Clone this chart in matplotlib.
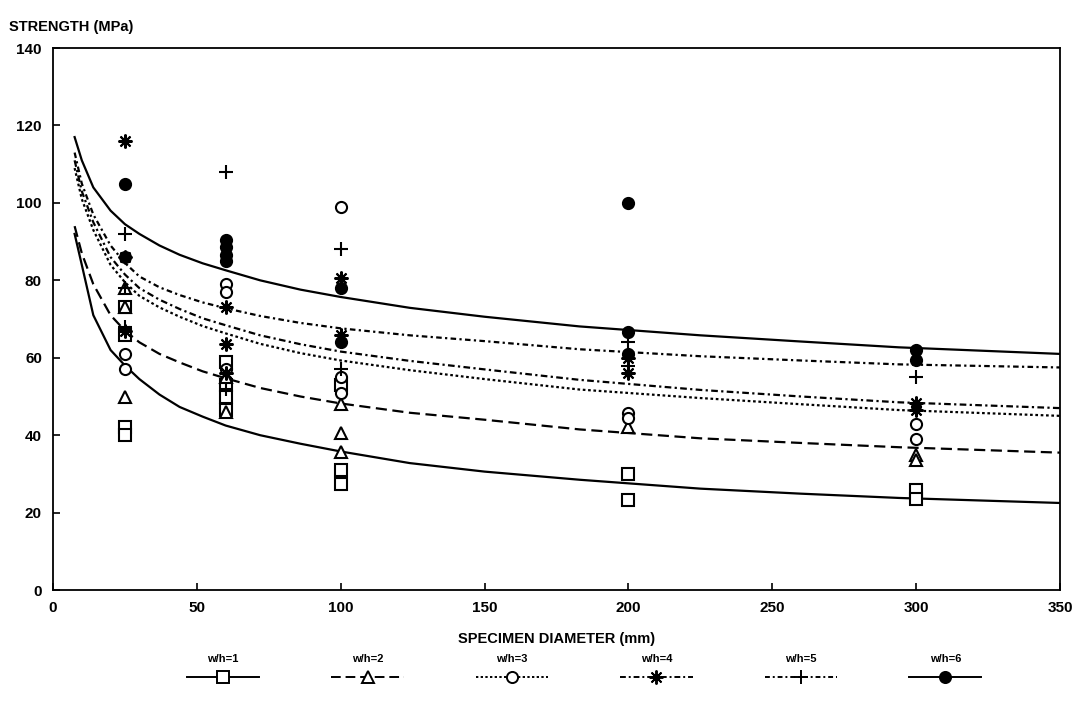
import matplotlib
matplotlib.use("Agg")
import matplotlib.pyplot as plt
from matplotlib.lines import Line2D

plt.rcParams['font.family'] = ['Liberation Sans', 'DejaVu Sans']

# ---------------- data ----------------
series_labels = ["w/h=1", "w/h=2", "w/h=3", "w/h=4", "w/h=5", "w/h=6"]

# measured points (diameter mm, strength MPa)
pts_wh1_d = [25, 25, 25, 25, 60, 60, 60, 60, 100, 100, 100, 200, 200, 300, 300]
pts_wh1_s = [73, 66, 42, 40, 59, 53, 50, 46.5, 53, 31, 27.5, 30, 23.2, 25.8, 23.5]

pts_wh2_d = [25, 25, 25, 60, 60, 100, 100, 100, 200, 300, 300]
pts_wh2_s = [78, 73, 50, 55, 46, 48, 40.5, 35.6, 42, 35, 33.5]

pts_wh3_d = [25, 25, 60, 60, 60, 100, 100, 100, 200, 200, 300, 300]
pts_wh3_s = [61, 57, 79, 77, 57, 99, 55, 51, 45.7, 44.5, 43, 39]

pts_wh4_d = [25, 25, 25, 60, 60, 60, 100, 100, 200, 200, 300, 300]
pts_wh4_s = [116, 86, 67, 73, 63.5, 56, 80.5, 66, 60, 56, 48.3, 46.5]

pts_wh5_d = [25, 25, 25, 60, 60, 100, 100, 200, 200, 300]
pts_wh5_s = [92, 78, 68, 108, 52, 88, 57, 64, 58, 55]

pts_wh6_d = [25, 25, 60, 60, 60, 60, 100, 100, 200, 200, 200, 300, 300]
pts_wh6_s = [105, 86, 90.5, 88.5, 86.5, 85, 78, 64, 100, 66.6, 61, 62, 59.5]

# fitted curves (diameter mm, strength MPa)
curve_d = [7.5, 10, 14, 20, 25, 30, 37, 44, 52, 60, 72, 86, 100, 124, 150, 183, 225, 260, 294, 350]
curve_wh1 = [92, 84, 71, 62, 58, 54.5, 50.5, 47.3, 44.8, 42.5, 40.0, 37.8, 35.8, 32.8, 30.6, 28.5, 26.2, 24.9, 23.8, 22.5]
curve_wh2 = [94, 87, 79, 71, 67, 64, 61, 58.8, 56.5, 54.7, 52.2, 50.0, 48.2, 45.8, 44, 41.5, 39.2, 38, 36.9, 35.5]
curve_wh3 = [109, 101, 93, 84, 79.5, 76, 73, 70.6, 68.2, 66.3, 63.6, 61.2, 59.3, 56.8, 54.5, 51.8, 49.6, 48, 46.5, 45]
curve_wh4 = [111, 103, 95, 86, 81.5, 78, 75, 72.6, 70.2, 68.4, 65.8, 63.5, 61.6, 59.2, 57, 54.3, 51.7, 50, 48.5, 47]
curve_wh5 = [113, 105, 97, 89, 84.5, 81, 78.2, 76.2, 74.3, 72.8, 70.8, 69.0, 67.6, 65.8, 64.3, 62.2, 60.4, 59.3, 58.3, 57.5]
curve_wh6 = [117, 111, 104, 98, 94.5, 92, 89, 86.6, 84.4, 82.6, 80.0, 77.6, 75.7, 72.9, 70.6, 68.1, 65.8, 64.2, 62.7, 61]

x_ticks = [0, 50, 100, 150, 200, 250, 300, 350]
y_ticks = [0, 20, 40, 60, 80, 100, 120, 140]

# ---------------- styles ----------------
points = [(pts_wh1_d, pts_wh1_s), (pts_wh2_d, pts_wh2_s), (pts_wh3_d, pts_wh3_s),
          (pts_wh4_d, pts_wh4_s), (pts_wh5_d, pts_wh5_s), (pts_wh6_d, pts_wh6_s)]
curves = [curve_wh1, curve_wh2, curve_wh3, curve_wh4, curve_wh5, curve_wh6]
markers = ['s', '^', 'o', (8, 2, 0), '+', 'o']
mfaces = ['white', 'white', 'white', 'black', 'black', 'black']
msizes = [8, 8, 8, 10, 10, 8]
lstyles = ['-', (0, (5, 2.5)), (0, (1.2, 1.2)), (0, (3, 1.5, 1, 1.5)), (0, (2.5, 1.5, 1, 1.5)), '-']

fig = plt.figure(figsize=(10.89, 7.17), dpi=100)
ax = fig.add_axes([0.0487, 0.177, 0.9247, 0.756])

for (d, s), c, m, mf, ms, ls in zip(points, curves, markers, mfaces, msizes, lstyles):
    ax.plot(curve_d, c, color='black', linestyle=ls, linewidth=1.6, zorder=2)
    ax.plot(d, s, linestyle='none', marker=m, markerfacecolor=mf, markeredgecolor='black',
            markersize=ms, markeredgewidth=1.5, zorder=3)

ax.set_xlim(0, 350)
ax.set_ylim(0, 140)
ax.set_xticks(x_ticks)
ax.set_yticks(y_ticks)
ax.tick_params(direction='in', length=5, width=1.2, labelsize=11, pad=8)
for lab in ax.get_xticklabels() + ax.get_yticklabels():
    lab.set_fontweight('bold')
for sp in ax.spines.values():
    sp.set_linewidth(1.3)

fig.text(0.008, 0.962, "STRENGTH (MPa)", fontsize=10.5, fontweight='bold', ha='left', va='center')
ax.set_xlabel("SPECIMEN DIAMETER (mm)", fontsize=10.5, fontweight='bold', labelpad=12)

# legend: line samples with labels above
handles = [Line2D([], [], color='black', linestyle=ls, linewidth=1.4, marker=m,
                  markerfacecolor=mf, markeredgecolor='black', markersize=ms, markeredgewidth=1.4)
           for m, mf, ms, ls in zip(markers, mfaces, msizes, lstyles)]
leg = fig.legend(handles, [''] * 6, ncol=6, loc='center', bbox_to_anchor=(0.5365, 0.055),
                 frameon=False, handlelength=5.2, handletextpad=0.0, columnspacing=5.2)
fig.canvas.draw()
inv = fig.transFigure.inverted()
for h, lab in zip(leg.legend_handles, series_labels):
    bb = h.get_window_extent(fig.canvas.get_renderer())
    cx, cy = inv.transform(((bb.x0 + bb.x1) / 2, (bb.y0 + bb.y1) / 2))
    fig.text(cx, cy + 0.025, lab, fontsize=8, fontweight='bold', ha='center', va='center')

fig.savefig("out.png", dpi=100)
